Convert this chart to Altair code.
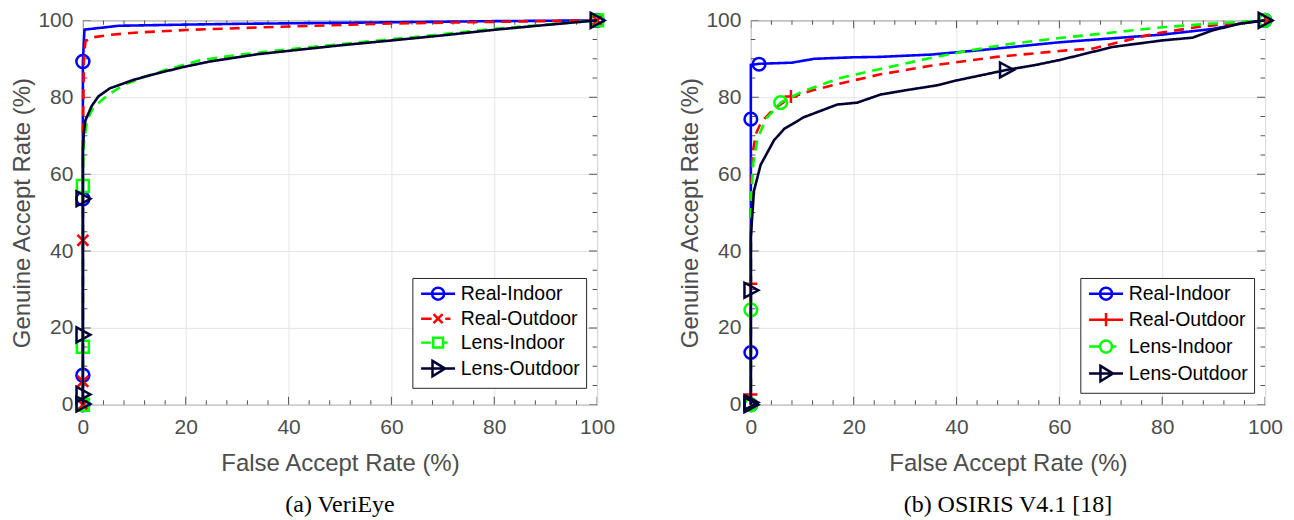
import altair as alt
import pandas as pd

SERIES = ["Real-Indoor", "Real-Outdoor", "Lens-Indoor", "Lens-Outdoor"]
COLORS = ["#0000ff", "#ff0000", "#00ff00", "#000033"]
DASHES = [[1, 0], [10, 7], [10, 7], [1, 0]]

MAJOR = [0, 20, 40, 60, 80, 100]
MINOR_X = [4, 8, 12, 16, 24, 28, 32, 36, 44, 48, 52, 56, 64, 68, 72, 76, 84, 88, 92, 96]
MINOR_Y = [5, 10, 15, 25, 30, 35, 45, 50, 55, 65, 70, 75, 85, 90, 95]

# ---------------- (a) VeriEye ----------------
ve_ri_x = [0, 0, 0.3, 7, 20, 30, 45, 60, 80, 100]
ve_ri_y = [0, 89, 97.6, 98.6, 98.9, 99.1, 99.3, 99.5, 99.8, 100]
ve_ro_x = [0, 0, 0.2, 0.5, 1.5, 5, 10, 20, 35, 60, 80, 100]
ve_ro_y = [0, 70, 90, 94.5, 95.5, 96.2, 96.8, 97.5, 98.2, 99.2, 99.6, 100]
ve_li_x = [0, 0, 0.2, 0.8, 2, 5, 8, 12, 16, 22.7, 30, 40, 50, 60, 70, 80, 90, 100]
ve_li_y = [0, 60, 68, 74, 77.3, 80.7, 83.2, 85.3, 87.1, 89.6, 91, 92.5, 93.8, 95.1, 96.4, 97.8, 98.9, 100]
ve_lo_x = [0, 0, 0.2, 0.5, 1.7, 3, 5.2, 10, 15, 20, 24.7, 34, 40.2, 50, 60.2, 70, 80.4, 90, 100]
ve_lo_y = [0, 66, 71, 74, 77.7, 80.2, 82.3, 84.6, 86.4, 88, 89.3, 91.2, 92.1, 93.5, 94.8, 96.1, 97.6, 98.8, 100]

ve_ri_mx = [0, 0, 0, 0, 100]
ve_ri_my = [0, 7.7, 53.6, 89.3, 100]
ve_ro_mx = [0, 0, 0, 100]
ve_ro_my = [0, 6.1, 42.8, 100]
ve_li_mx = [0, 0, 0, 100]
ve_li_my = [0, 15.1, 56.9, 100]
ve_lo_mx = [0, 0, 0, 0, 100]
ve_lo_my = [0.2, 2.7, 18.2, 53.6, 100]

# ---------------- (b) OSIRIS V4.1 ----------------
os_ri_x = [0, 0, 1.6, 8, 12.3, 20, 25, 35, 45, 60, 70, 80, 90, 96, 100]
os_ri_y = [0, 88.4, 88.7, 89, 90, 90.4, 90.5, 91.1, 92.3, 94.3, 95.3, 96.3, 97.8, 99.4, 100]
os_ro_x = [0, 0, 0.3, 1, 2, 4.5, 7.8, 12, 17.4, 25, 35, 47.8, 55, 61.4, 66.6, 73.1, 77, 80.2, 86.6, 93, 100]
os_ro_y = [0, 50, 65, 70.5, 73.5, 77, 80, 81.8, 83.6, 85.9, 88.2, 90.5, 91.4, 92.2, 92.7, 94.8, 96.1, 96.9, 98.2, 99.1, 100]
os_li_x = [0, 0, 0.1, 0.5, 1.3, 3, 5.8, 10, 17.4, 25, 34.9, 42.6, 50, 60, 70, 80, 90, 100]
os_li_y = [0, 45, 55, 63, 69.2, 74.5, 78.6, 81.5, 85, 87.3, 90.2, 92.2, 93.8, 95.4, 96.8, 98.2, 99.2, 100]
os_lo_x = [0, 0, 0.6, 1.9, 4.5, 6.5, 10.3, 16.8, 20.7, 25.2, 30, 36.2, 40.1, 49.7, 55, 60.1, 70.4, 80.1, 85.9, 89.8, 95, 100]
os_lo_y = [0, 43.7, 55.6, 62.4, 68.8, 71.8, 74.8, 78.1, 78.6, 80.7, 81.8, 83.1, 84.4, 87.1, 88.3, 89.7, 93.1, 94.8, 95.5, 97.4, 99.1, 100]

os_ri_mx = [0, 0, 0, 1.6, 100]
os_ri_my = [0, 13.6, 74.3, 88.6, 100]
os_ro_mx = [0, 0, 7.8, 100]
os_ro_my = [2.7, 31.5, 80.2, 100]
os_li_mx = [0, 0, 5.8, 100]
os_li_my = [0, 24.7, 78.6, 100]
os_lo_mx = [0, 0, 0, 49.7, 100]
os_lo_my = [0, 0.6, 29.8, 87.1, 100]

# marker shapes
CIRCLE = "circle"
SQUARE = "square"
XMARK = "M-1,-1L1,1M-1,1L1,-1"
PLUS = "M-1,0L1,0M0,-1L0,1"
TRI_R = "M-0.85,-1L1,0L-0.85,1Z"

# legend symbols: line + marker (unit = 7px)
LG_CIRCLE = "M-1,0L3.86,0M2.29,0A0.86,0.86 0 1,1 0.57,0A0.86,0.86 0 1,1 2.29,0"
LG_X_DASH = "M-1,0L0.5,0M0.78,-0.65L2.08,0.65M0.78,0.65L2.08,-0.65M2.45,0L3.2,0"
LG_SQ_DASH = "M-1,0L0.4,0M0.73,-0.7L2.13,-0.7L2.13,0.7L0.73,0.7ZM2.13,0L2.8,0"
LG_TRI = "M-1,0L3.86,0M0.63,-1.1L2.43,0L0.63,1.1Z"
LG_PLUS = "M-1,0L3.86,0M1.43,-0.95L1.43,0.95"
LG_CIRC_DASH = "M-1,0L0.57,0M2.29,0A0.86,0.86 0 1,1 0.57,0A0.86,0.86 0 1,1 2.29,0M2.29,0L2.9,0"

SANS = "Liberation Sans"
SERIF = "Liberation Serif"
LBL = "#4d4d4d"
FRAME = "#555555"
GRID = "#e4e4e4"
W, H = 515, 385

xs = alt.Scale(domain=[0, 100], nice=False, zero=False)
ys = alt.Scale(domain=[0, 100], nice=False, zero=False)

X_AXIS = alt.Axis(values=MAJOR, title="False Accept Rate (%)", grid=True, gridColor=GRID,
                  ticks=False, tickSize=0, domain=False, labelFont=SANS, labelFontSize=21,
                  labelColor=LBL, labelPadding=12, labelFlush=False, titleFont=SANS,
                  titleFontSize=24, titleFontWeight="normal", titleColor=LBL, titlePadding=14,
                  format="d")
Y_AXIS = alt.Axis(values=MAJOR, title="Genuine Accept Rate (%)", grid=True, gridColor=GRID,
                  ticks=False, tickSize=0, domain=False, labelFont=SANS, labelFontSize=21,
                  labelColor=LBL, labelPadding=10, labelFlush=False, titleFont=SANS,
                  titleFontSize=24, titleFontWeight="normal", titleColor=LBL, titlePadding=3,
                  format="d")


def X(field):
    return alt.X(field, scale=xs, axis=X_AXIS)


def Y(field):
    return alt.Y(field, scale=ys, axis=Y_AXIS)


def tick_layers():
    out = []
    for vals, size in ((MAJOR, 16), (MINOR_X, 9)):
        df = pd.DataFrame({"v": vals})
        for fixed in (0, 100):
            out.append(alt.Chart(df).mark_tick(orient="vertical", size=size, thickness=1,
                                               color=FRAME, opacity=1, clip=True).encode(
                x=X("v:Q"), y=alt.YDatum(fixed, scale=ys, axis=Y_AXIS)))
    for vals, size in ((MAJOR, 16), (MINOR_Y, 9)):
        df = pd.DataFrame({"v": vals})
        for fixed in (0, 100):
            out.append(alt.Chart(df).mark_tick(orient="horizontal", size=size, thickness=1,
                                               color=FRAME, opacity=1, clip=True).encode(
                y=Y("v:Q"), x=alt.XDatum(fixed, scale=xs, axis=X_AXIS)))
    return out


def panel(curves, markers, shapes, sizes, legend_paths, caption):
    layers = tick_layers()
    for k, s in enumerate(SERIES):
        cx, cy = curves[k]
        ldf = pd.DataFrame({"x": cx, "y": cy, "i": list(range(len(cx)))})
        layers.append(alt.Chart(ldf).mark_line(color=COLORS[k], strokeDash=DASHES[k],
                                               strokeWidth=2.6).encode(
            x=X("x:Q"), y=Y("y:Q"), order=alt.Order("i:Q")))
        mx, my = markers[k]
        mdf = pd.DataFrame({"x": mx, "y": my})
        layers.append(alt.Chart(mdf).mark_point(shape=shapes[k], size=sizes[k], filled=False,
                                                color=COLORS[k], strokeWidth=2.5, opacity=1).encode(
            x=X("x:Q"), y=Y("y:Q")))
    leg = alt.Legend(orient="none", legendX=330, legendY=258, title=None, labelFont=SANS,
                     labelFontSize=19.5, labelColor="black", labelOffset=23, symbolSize=196,
                     symbolStrokeWidth=2.5, padding=6, rowPadding=3, strokeColor="#262626",
                     fillColor="white", symbolOffset=0)
    ldf = pd.DataFrame({"x": [0], "y": [0], "series": [SERIES[0]]})
    layers.append(alt.Chart(ldf).transform_filter("false").mark_point(
        filled=False, strokeWidth=2.5, opacity=1).encode(
        x=X("x:Q"), y=Y("y:Q"),
        color=alt.Color("series:N", scale=alt.Scale(domain=SERIES, range=COLORS), legend=leg),
        shape=alt.Shape("series:N", scale=alt.Scale(domain=SERIES, range=legend_paths), legend=leg)))
    return alt.layer(*layers).properties(
        width=W, height=H,
        title=alt.TitleParams(caption, orient="bottom", font=SERIF, fontSize=24,
                              fontWeight="normal", color="black", anchor="middle", offset=17))


left = panel(
    [(ve_ri_x, ve_ri_y), (ve_ro_x, ve_ro_y), (ve_li_x, ve_li_y), (ve_lo_x, ve_lo_y)],
    [(ve_ri_mx, ve_ri_my), (ve_ro_mx, ve_ro_my), (ve_li_mx, ve_li_my), (ve_lo_mx, ve_lo_my)],
    [CIRCLE, XMARK, SQUARE, TRI_R], [169, 121, 144, 225],
    [LG_CIRCLE, LG_X_DASH, LG_SQ_DASH, LG_TRI], "(a) VeriEye")
right = panel(
    [(os_ri_x, os_ri_y), (os_ro_x, os_ro_y), (os_li_x, os_li_y), (os_lo_x, os_lo_y)],
    [(os_ri_mx, os_ri_my), (os_ro_mx, os_ro_my), (os_li_mx, os_li_my), (os_lo_mx, os_lo_my)],
    [CIRCLE, PLUS, CIRCLE, TRI_R], [160, 169, 160, 225],
    [LG_CIRCLE, LG_PLUS, LG_CIRC_DASH, LG_TRI], "(b) OSIRIS V4.1 [18]")

chart = alt.hconcat(left, right, spacing=62).resolve_scale(
    color="independent", shape="independent").properties(
    padding={"left": 2, "top": -1, "right": 2, "bottom": 0}
).configure_view(stroke=FRAME, strokeWidth=1)

chart.save("out.html", embed_options={"renderer": "svg", "actions": False})
